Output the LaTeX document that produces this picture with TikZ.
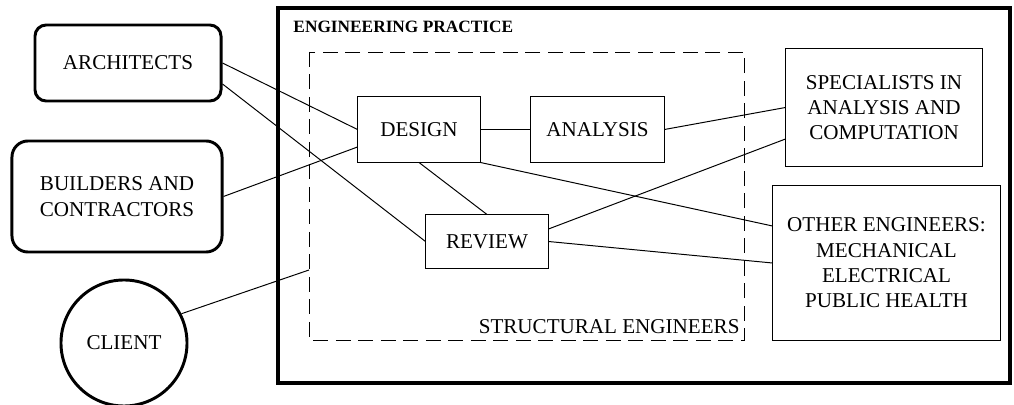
\documentclass[tikz,border=0pt]{standalone}
\usepackage{fontspec}
\setmainfont{Liberation Serif}
\usetikzlibrary{calc}

\begin{document}
\begin{tikzpicture}[x=0.025cm, y=-0.025cm, line width=0.7pt,
        every node/.style={align=center, inner sep=0pt, font=\fontsize{15}{18}\selectfont},
        thinbox/.style={draw, rectangle},
        partybox/.style={draw, rectangle, rounded corners=0.28cm, line width=2.1pt}]
        \useasboundingbox (0,0) rectangle (1014,405);

        % Frames
        \draw[line width=2.8pt] (278,8) rectangle (1010,383);
        \draw[dash pattern=on 10.5pt off 5.5pt] (309,52) rectangle (744,340);
        \node[font=\fontsize{12.3}{14}\selectfont\bfseries, anchor=west] (practice) at (293,26.5) {ENGINEERING PRACTICE};
        \node[anchor=south east] (structural) at (740,334) {STRUCTURAL ENGINEERS};
        \coordinate (structedge) at (309,270);

        % Nodes
        \node[partybox, minimum width=4.65cm, minimum height=1.9cm] (archi) at (128,63) {ARCHITECTS};
        \node[partybox, rounded corners=0.4cm, minimum width=5.25cm, minimum height=2.775cm] (builders) at (117,196.5) {BUILDERS AND\\CONTRACTORS};
        \node[draw, circle, line width=2.1pt, minimum size=3.15cm] (client) at (124,343) {CLIENT};
        \node[thinbox, minimum width=3.05cm, minimum height=1.625cm] (design) at (419,129.5) {DESIGN};
        \node[thinbox, minimum width=3.325cm, minimum height=1.625cm] (analysis) at (597.5,129.5) {ANALYSIS};
        \node[thinbox, minimum width=3.05cm, minimum height=1.325cm] (review) at (487,241.5) {REVIEW};
        \node[thinbox, minimum width=4.9cm, minimum height=2.925cm] (spec) at (884,107.5) {SPECIALISTS IN\\ANALYSIS AND\\COMPUTATION};
        \node[thinbox, minimum width=5.675cm, minimum height=3.85cm] (other) at (886.5,263) {OTHER ENGINEERS:\\MECHANICAL\\ELECTRICAL\\PUBLIC HEALTH};

        % Lines
        \draw (archi.east) -- (design.west);
        \draw ($(archi.east)+(0,21)$) -- (review.west);
        \draw (builders.east) -- ($(design.west)+(0,17.5)$);
        \draw (client.27) -- (structedge);
        \draw (design.south) -- (review.north);
        \draw (design.east) -- (analysis.west);
        \draw (analysis.east) -- (spec.west);
        \draw ($(review.east)+(0,-12.5)$) -- ($(spec.west)+(0,31.5)$);
        \draw (design.south east) -- ($(other.west)+(0,-37)$);
        \draw (review.east) -- (other.west);
    \end{tikzpicture}
\end{document}
